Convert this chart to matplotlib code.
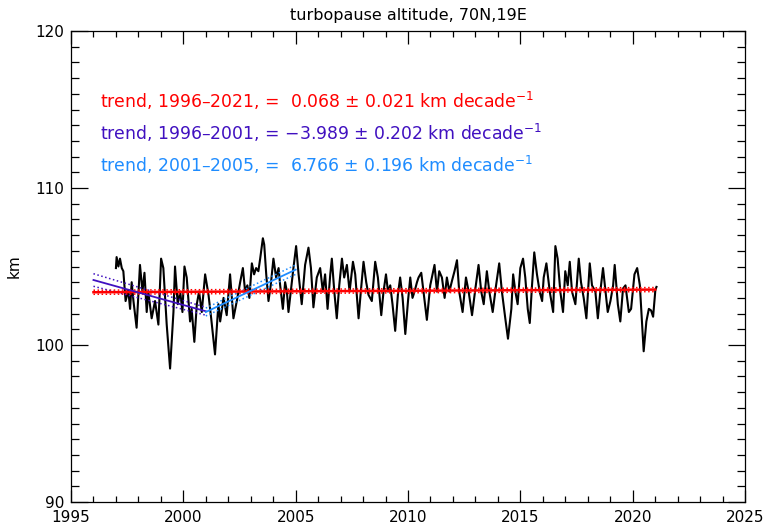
import matplotlib
matplotlib.use('Agg')
import matplotlib.pyplot as plt
from matplotlib.ticker import MultipleLocator

plt.rcParams['font.family'] = 'DejaVu Sans'
plt.rcParams['mathtext.default'] = 'regular'

# turbopause altitude series (decimal year, km)
t = [1997.00, 1997.03, 1997.11, 1997.18, 1997.26, 1997.33, 1997.43, 1997.55, 1997.63, 1997.70,
     1997.78, 1997.92, 1998.07, 1998.18, 1998.27, 1998.37, 1998.44, 1998.59, 1998.74, 1998.89,
     1999.01, 1999.11, 1999.26, 1999.41, 1999.56, 1999.63, 1999.75, 1999.86, 1999.96, 2000.05,
     2000.15, 2000.30, 2000.37, 2000.49, 2000.60, 2000.70, 2000.82, 2000.97, 2001.12, 2001.24,
     2001.41, 2001.56, 2001.64, 2001.79, 2001.93, 2002.08, 2002.23, 2002.38, 2002.53, 2002.65,
     2002.75, 2002.85, 2002.94, 2003.05, 2003.15, 2003.24, 2003.34, 2003.42, 2003.54, 2003.60,
     2003.69, 2003.79, 2003.89, 2004.01, 2004.13, 2004.24, 2004.31, 2004.43, 2004.53, 2004.61,
     2004.68, 2004.78, 2004.90, 2005.02, 2005.13, 2005.27, 2005.42, 2005.57, 2005.68, 2005.79,
     2005.94, 2006.09, 2006.21, 2006.31, 2006.42, 2006.54, 2006.61, 2006.72, 2006.83, 2006.94,
     2007.06, 2007.16, 2007.28, 2007.40, 2007.55, 2007.65, 2007.80, 2007.90, 2008.02, 2008.14,
     2008.24, 2008.39, 2008.54, 2008.66, 2008.81, 2008.91, 2009.02, 2009.11, 2009.21, 2009.31,
     2009.43, 2009.55, 2009.65, 2009.76, 2009.88, 2010.00, 2010.10, 2010.20, 2010.29, 2010.40,
     2010.47, 2010.59, 2010.69, 2010.84, 2010.99, 2011.18, 2011.29, 2011.39, 2011.51, 2011.63,
     2011.73, 2011.84, 2011.96, 2012.07, 2012.18, 2012.28, 2012.43, 2012.58, 2012.70, 2012.85,
     2013.00, 2013.14, 2013.26, 2013.37, 2013.51, 2013.62, 2013.77, 2013.92, 2014.06, 2014.18,
     2014.33, 2014.45, 2014.60, 2014.68, 2014.78, 2014.88, 2015.00, 2015.12, 2015.22, 2015.33,
     2015.42, 2015.52, 2015.62, 2015.74, 2015.86, 2015.97, 2016.04, 2016.16, 2016.31, 2016.46,
     2016.56, 2016.66, 2016.78, 2016.90, 2017.00, 2017.11, 2017.20, 2017.30, 2017.45, 2017.60,
     2017.70, 2017.82, 2017.94, 2018.09, 2018.19, 2018.34, 2018.45, 2018.56, 2018.68, 2018.79,
     2018.89, 2019.01, 2019.13, 2019.20, 2019.34, 2019.45, 2019.57, 2019.68, 2019.83, 2019.93,
     2020.08, 2020.20, 2020.32, 2020.42, 2020.49, 2020.61, 2020.72, 2020.82, 2020.91, 2021.01,
     2021.06]
alt = [104.9, 105.6, 105.0, 105.5, 104.9, 104.7, 102.8, 103.5, 102.3, 104.0,
       102.8, 101.1, 105.1, 103.4, 104.6, 102.1, 103.4, 101.7, 102.8, 101.3,
       105.5, 104.9, 101.3, 98.5, 102.1, 105.0, 102.6, 103.4, 102.1, 105.0,
       104.3, 101.5, 102.3, 100.2, 102.6, 103.4, 102.1, 104.5, 103.2, 101.7,
       99.4, 102.6, 101.5, 103.0, 101.9, 104.5, 101.7, 102.8, 104.0, 104.9,
       103.4, 103.8, 103.0, 105.2, 104.5, 104.9, 104.7, 105.5, 106.8, 106.4,
       104.5, 102.8, 103.8, 105.5, 104.3, 104.9, 103.8, 102.3, 104.0, 103.4,
       102.1, 103.4, 104.9, 106.3, 104.5, 102.6, 105.1, 106.2, 104.9, 102.4,
       104.3, 104.9, 103.4, 104.5, 102.3, 104.5, 105.5, 103.4, 101.7, 103.8,
       105.5, 104.3, 105.1, 103.4, 105.3, 104.5, 101.7, 103.4, 105.3, 104.0,
       103.2, 102.8, 105.3, 104.3, 101.9, 103.4, 104.5, 103.4, 103.8, 102.6,
       100.9, 103.2, 104.3, 103.0, 100.7, 102.8, 104.3, 103.0, 103.4, 104.0,
       104.3, 104.6, 103.4, 101.6, 103.8, 105.1, 103.4, 104.7, 104.3, 103.0,
       104.3, 103.4, 104.1, 104.7, 105.4, 103.4, 102.1, 104.3, 103.4, 101.9,
       103.6, 105.1, 103.4, 102.6, 104.7, 103.4, 102.1, 103.8, 105.2, 103.4,
       101.7, 100.4, 102.3, 104.5, 103.4, 102.6, 104.9, 105.5, 104.3, 102.3,
       101.4, 103.8, 105.9, 104.5, 103.4, 102.8, 104.3, 105.2, 103.4, 102.1,
       106.3, 105.5, 103.4, 102.1, 104.7, 103.8, 105.3, 103.4, 102.6, 105.5,
       104.0, 103.0, 101.7, 105.2, 103.8, 103.4, 101.7, 103.4, 104.9, 103.4,
       102.1, 102.8, 103.8, 105.1, 102.6, 101.5, 103.6, 103.8, 102.1, 102.3,
       104.5, 104.9, 103.8, 101.3, 99.6, 101.5, 102.3, 102.2, 101.8, 103.5,
       103.7]

# linear trends: end points and the dotted uncertainty offsets
tr_all_x = [1996.0, 2021.0]
tr_all_y = [103.36, 103.53]
tr_all_err = [0.13, 0.13]
tr_early_x = [1996.0, 2001.0]
tr_early_y = [104.14, 102.15]
tr_early_err = [0.40, 0.25]
tr_rise_x = [2001.0, 2005.0]
tr_rise_y = [102.10, 104.80]
tr_rise_err = [0.25, 0.30]

labels = [u'trend, 1996\u20132021, =  0.068 \u00b1 0.021 km decade$^{\u22121}$',
          u'trend, 1996\u20132001, = \u22123.989 \u00b1 0.202 km decade$^{\u22121}$',
          u'trend, 2001\u20132005, =  6.766 \u00b1 0.196 km decade$^{\u22121}$']
colors = ['#FF0000', '#4010C0', '#1E8CFF']

fig = plt.figure(figsize=(7.66, 5.31), dpi=100)
ax = fig.add_axes([71/766, 29/531, 674/766, 471/531])

ax.plot(t, alt, color='black', linewidth=1.5, zorder=2)

trends = [(tr_all_x, tr_all_y, tr_all_err, 1.8),
          (tr_early_x, tr_early_y, tr_early_err, 1.3),
          (tr_rise_x, tr_rise_y, tr_rise_err, 1.3)]
for (tx, ty, te, lw), c in zip(trends, colors):
    ax.plot(tx, ty, color=c, linewidth=lw, zorder=4)
    ax.plot(tx, [y + e for y, e in zip(ty, te)], color=c, linewidth=1.1, linestyle=':', zorder=3)
    ax.plot(tx, [y - e for y, e in zip(ty, te)], color=c, linewidth=1.1, linestyle=':', zorder=3)

for i, (lab, c) in enumerate(zip(labels, colors)):
    ax.text(0.043, 0.851 - i*0.068, lab, color=c, fontsize=12.4,
            transform=ax.transAxes, va='center', ha='left')

ax.set_xlim(1995, 2025)
ax.set_ylim(90, 120)
ax.xaxis.set_major_locator(MultipleLocator(5))
ax.xaxis.set_minor_locator(MultipleLocator(1))
ax.yaxis.set_major_locator(MultipleLocator(10))
ax.yaxis.set_minor_locator(MultipleLocator(1))
ax.tick_params(which='both', direction='in', top=True, right=True, labelsize=11, width=0.9)
ax.tick_params(which='major', axis='x', length=9, pad=6)
ax.tick_params(which='minor', axis='x', length=4.5)
ax.tick_params(which='major', axis='y', length=12, pad=5)
ax.tick_params(which='minor', axis='y', length=6)
for s in ax.spines.values():
    s.set_linewidth(0.9)

ax.set_ylabel('km', fontsize=11, labelpad=10)
ax.set_title('turbopause altitude, 70N,19E', fontsize=11.5, pad=8)

fig.savefig('out.png', dpi=100)
